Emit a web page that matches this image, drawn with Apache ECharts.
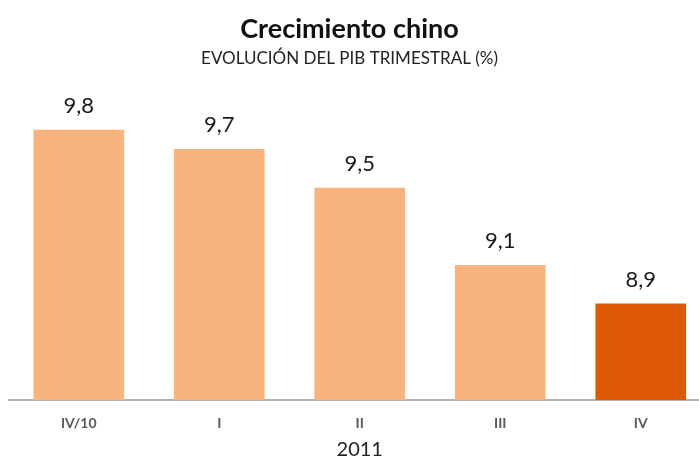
<!DOCTYPE html>
<html><head><meta charset="utf-8">
<script src="https://cdn.jsdelivr.net/npm/echarts@6/dist/echarts.min.js"></script>
<style>html,body{margin:0;padding:0;background:#fff}#c{width:699px;height:459px}</style>
</head><body><div id="c"></div>
<script>
var categories = ['IV/10', 'I', 'II', 'III', 'IV'];
var values = [9.8, 9.7, 9.5, 9.1, 8.9];
var highlightIndex = 4;
var titleText = 'Crecimiento chino';
var subtitleText = 'EVOLUCIÓN DEL PIB TRIMESTRAL (%)';
var yearLabel = '2011';

var FONT = 'Lato, "Open Sans", sans-serif';
var chart = echarts.init(document.getElementById('c'));
chart.setOption({
  animation: false,
  title: {
    text: titleText, subtext: subtitleText, left: 'center', top: 11, itemGap: 7,
    textStyle: {fontFamily: FONT, fontSize: 27, fontWeight: 'bold', color: '#111'},
    subtextStyle: {fontFamily: FONT, fontSize: 17, color: '#222'}
  },
  grid: {left: 8.5, right: -12, top: 91.2, bottom: 59, outerBoundsMode: 'none', containLabel: false},
  xAxis: {
    type: 'category', data: categories,
    axisLine: {lineStyle: {color: '#9a9a9a', width: 1.5}},
    axisTick: {show: false},
    axisLabel: {fontFamily: FONT, fontSize: 14, fontWeight: 'bold', color: '#595959', margin: 16},
    name: yearLabel, nameLocation: 'middle', nameGap: 40,
    nameTextStyle: {fontFamily: FONT, fontSize: 20, color: '#222'}
  },
  yAxis: {type: 'value', min: 8.4, max: 10.0, show: false, splitLine: {show: false}},
  series: [{
    type: 'bar', barWidth: '64.5%',
    data: values.map(function (v, i) {
      return {value: v, itemStyle: {color: i === highlightIndex ? '#DF5A05' : '#F9B47E'}};
    }),
    label: {
      show: true, position: 'top', distance: 13,
      fontFamily: FONT, fontSize: 22, color: '#1a1a1a',
      formatter: function (p) { return String(p.value).replace('.', ','); }
    }
  }]
});
</script></body></html>
